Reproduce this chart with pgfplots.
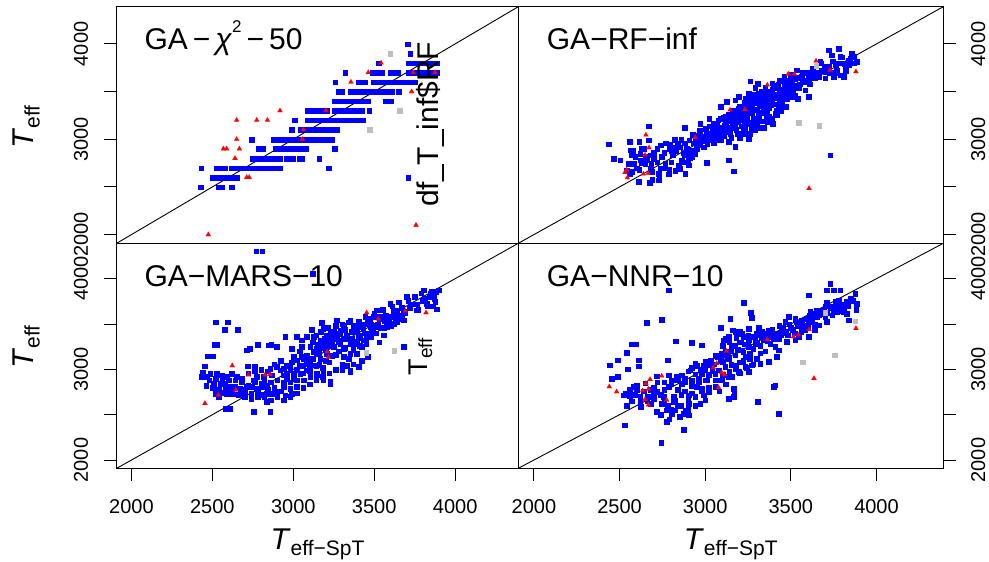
\documentclass[border=0pt]{standalone}
\usepackage{pgfplots}
\pgfplotsset{compat=1.18}
\usepackage{fontspec}
\setmainfont{Liberation Sans}
\definecolor{ptgrey}{RGB}{190,190,190}
\pgfplotsset{
  panel/.style={scale only axis, anchor=south west,
    xmin=1909, xmax=4390, ymin=1909, ymax=4390,
    axis line style={line width=1.2pt},
    tick style={black, line width=1pt},
    tick align=outside, major tick length=12.6pt,
    ytick={2000,2500,3000,3500,4000}, yticklabels={2000,,3000,,4000},
    xtick={2000,2500,3000,3500,4000}, xticklabels={2000,2500,3000,3500,4000},
    tick label style={font=\fontsize{20}{24}\selectfont, inner sep=0pt, outer sep=0pt},
    xticklabel style={anchor=north}, xticklabel shift=18.6pt,
  },
  leftpanel/.style={ytick pos=left, yticklabel style={rotate=90, anchor=south}, yticklabel shift=16.1pt},
  rightpanel/.style={ytick pos=right, yticklabel pos=right, yticklabel style={rotate=90, anchor=north}, yticklabel shift=15.3pt},
  toppanel/.style={xtick=\empty},
  botpanel/.style={xtick pos=bottom},
  bluept/.style={blue, only marks, mark=square*, mark size=2.3pt, mark options={solid, draw=blue, fill=blue, line width=0.1pt}},
  redpt/.style={red, only marks, mark=triangle*, mark size=2.9pt, mark options={solid, draw=red, fill=red, line width=0.1pt}},
  greypt/.style={ptgrey, only marks, mark=square*, mark size=2.3pt, mark options={solid, draw=ptgrey, fill=ptgrey, line width=0.1pt}},
  diag/.style={black, line width=0.9pt},
}
\newcommand{\lab}{\fontsize{30}{36}\selectfont}
\newcommand{\sub}{\fontsize{21}{24}\selectfont}
\begin{document}
\begin{tikzpicture}[x=1pt,y=1pt]
\useasboundingbox (0,0) rectangle (989,562);
% ---------------- top left: GA - chi2 - 50
\begin{axis}[panel, leftpanel, toppanel, at={(116.7pt,318.7pt)}, width=401.6pt, height=236.6pt]
\addplot[bluept] coordinates {
(3706,4000) (3721,3900)
(3525,3800) (3712,3800) (3732,3800) (3752,3800) (3772,3800) (3792,3800) (3812,3800) (3832,3800) (3852,3800) (3872,3800) (3884,3800)
(3319,3700) (3486,3700) (3506,3700) (3526,3700) (3544,3700) (3599,3700) (3619,3700) (3639,3700) (3647,3700) (3712,3700) (3732,3700) (3752,3700) (3772,3700) (3792,3700) (3812,3700) (3832,3700) (3852,3700) (3872,3700) (3884,3700)
(3257,3600) (3403,3600) (3423,3600) (3441,3600) (3496,3600) (3516,3600) (3536,3600) (3556,3600) (3576,3600) (3596,3600) (3616,3600) (3636,3600) (3656,3600) (3676,3600) (3696,3600) (3716,3600) (3736,3600) (3750,3600)
(3280,3500) (3297,3500) (3352,3500) (3372,3500) (3392,3500) (3412,3500) (3432,3500) (3452,3500) (3472,3500) (3492,3500) (3512,3500) (3532,3500) (3552,3500) (3572,3500) (3592,3500) (3606,3500) (3649,3500)
(3255,3400) (3275,3400) (3295,3400) (3315,3400) (3335,3400) (3355,3400) (3375,3400) (3395,3400) (3415,3400) (3435,3400) (3455,3400) (3462,3400) (3568,3400) (3588,3400) (3602,3400)
(3084,3300) (3104,3300) (3124,3300) (3144,3300) (3164,3300) (3184,3300) (3204,3300) (3255,3300) (3275,3300) (3295,3300) (3315,3300) (3335,3300) (3355,3300) (3375,3300) (3395,3300) (3415,3300) (3421,3300) (3468,3300)
(3006,3200) (3084,3200) (3104,3200) (3124,3200) (3144,3200) (3164,3200) (3184,3200) (3204,3200) (3224,3200) (3244,3200) (3264,3200) (3284,3200) (3304,3200) (3324,3200) (3344,3200) (3364,3200) (3384,3200) (3404,3200) (3424,3200) (3431,3200)
(2989,3100) (3043,3100) (3063,3100) (3083,3100) (3103,3100) (3123,3100) (3143,3100) (3163,3100) (3183,3100) (3203,3100) (3223,3100) (3243,3100) (3263,3100) (3266,3100)
(2743,3000) (2878,3000) (2898,3000) (2918,3000) (2938,3000) (2958,3000) (2978,3000) (2998,3000) (3018,3000) (3038,3000) (3058,3000) (3078,3000) (3098,3000) (3118,3000) (3138,3000) (3158,3000) (3178,3000) (3198,3000) (3218,3000) (3235,3000)
(2786,2900) (2813,2900) (2889,2900) (2909,2900) (2929,2900) (2949,2900) (2969,2900) (2989,2900) (3009,2900) (3029,2900) (3049,2900) (3069,2900) (3077,2900) (3253,2900)
(2744,2800) (2764,2800) (2784,2800) (2804,2800) (2824,2800) (2844,2800) (2864,2800) (2884,2800) (2904,2800) (2916,2800) (2954,2800) (2974,2800) (2994,2800) (3037,2800) (3050,2800) (3160,2800)
(2431,2700) (2524,2700) (2544,2700) (2564,2700) (2576,2700) (2617,2700) (2637,2700) (2657,2700) (2677,2700) (2697,2700) (2717,2700) (2737,2700) (2757,2700) (2772,2700) (2806,2700) (2826,2700) (2846,2700) (2866,2700) (2886,2700) (2906,2700) (2916,2700) (3216,2700)
(2497,2600) (2517,2600) (2537,2600) (2557,2600) (2577,2600) (2597,2600) (2617,2600) (2637,2600) (2648,2600) (3708,2600)
(2426,2500) (2534,2500) (2556,2500) (2617,2500)
};
\addplot[greypt] coordinates {(3597,3900) (3655,3300) (3470,3100)};
\addplot[redpt] coordinates {
(2475,2000) (2650,3200) (2774,3200) (2840,3200) (2918,3300) (2650,3000) (2568,2900) (2588,2900) (2667,2900) (2640,2800) (2712,2600) (2728,2600) (3062,3100) (3056,3000) (3202,3300) (3356,3600) (3463,3700) (3542,3800) (3741,3700) (3875,3700) (3731,3500) (3758,2100)
};
\addplot[diag] coordinates {(1909,1909) (4390,4390)};
\end{axis}
% ---------------- top right: GA-RF-inf
\begin{axis}[panel, rightpanel, toppanel, at={(518.3pt,318.7pt)}, width=425pt, height=236.6pt]
\addplot[bluept] coordinates {
(2435,2950) (2464,2800) (2503,2782) (2557,2978) (2614,2978) (2668,3139) (2561,2887) (2571,2835) (2551,2748) (2581,2748) (2542,2678) (2571,2660) (2614,2685) (2629,2755) (2649,2817) (2678,2835) (2684,2748) (2668,2992) (2639,2905) (2610,2555) (2674,2548) (2726,2573) (2726,2643) (2688,2660) (2785,2636) (2824,2671) (2882,2643) (2902,2730) (2843,2730) (2863,2782) (2746,2817) (2765,2748) (2795,2950) (2820,2999) (2878,3125) (2911,2803) (2970,3167) (2966,3090) (2999,3115) (3022,3219) (3009,2758) (3135,2782) (3164,2667) (3174,2922) (3135,2975) (3067,3132) (3090,3342) (3125,3394) (3174,3412) (3194,3447) (3232,3429) (3262,3611) (3304,3586) (3291,3544) (3252,3482) (3291,3097) (3339,3122) (3392,3167) (3369,3237) (3252,3010) (3203,3062) (3232,3115) (3408,3272) (3427,3342) (3447,3412) (3466,3517) (3485,3621) (3505,3586) (3534,3726) (3563,3656) (3583,3517) (3602,3447) (3540,3429) (3505,3447) (3602,3621) (3622,3691) (3661,3656) (3670,3814) (3699,3709) (3719,3936) (3738,3883) (3777,3953) (3787,3866) (3816,3761) (3836,3831) (3855,3901) (3865,3866) (3884,3814) (3758,3796) (3748,3656) (3807,3656) (3787,3674) (3768,3726) (3729,2835)
(2930,2960) (2950,2900) (2970,2940) (2990,2980) (3010,2950) (3030,3000) (3050,2960) (3070,3020) (2960,3010) (2990,2920) (3020,3060) (3040,3090) (3060,3050) (3080,3080) (3100,3100) (3110,3040) (3120,3150) (3130,3080) (3140,3200) (3150,3120) (3160,3170) (3170,3230) (3180,3100) (3190,3180) (3200,3260) (3210,3140) (3220,3200) (3230,3300) (3240,3250) (3250,3180) (3260,3340) (3270,3280) (3280,3220) (3290,3380) (3300,3310) (3310,3250) (3320,3400) (3330,3350) (3340,3290) (3350,3450) (3360,3380) (3370,3330) (3380,3500) (3390,3420) (3400,3370) (3410,3470) (3420,3540) (3430,3450) (3440,3400) (3450,3520) (3460,3580) (3470,3480) (3490,3550) (3510,3500) (3520,3630) (3550,3580) (3570,3620) (3590,3700) (3610,3580) (3640,3650) (3680,3720) (3700,3640) (3720,3760) (3760,3700) (3790,3800) (3820,3720) (3840,3780)
(2760,2860) (2790,2900) (2810,2840) (2830,2880) (2850,2920) (2870,2860) (2890,2900) (2900,2840) (2920,2880) (2700,2800) (2720,2760) (2740,2700) (2680,2700) (2650,2740) (2620,2780) (2600,2700) (2590,2820) (2560,2640) (2800,2760) (2880,2960) (2940,3040) (3000,3010) (3090,2990) (3150,3020) (3190,3060) (3230,3160) (3270,3100) (3300,3150) (3330,3190) (3360,3270) (3120,3240) (3160,3300) (3200,3340) (3230,3390) (3260,3420) (3280,3470) (3310,3480) (3350,3540) (3390,3590) (3430,3620) (3460,3660) (3500,3680)
(2905,2990) (2925,3050) (2945,2990) (2965,3060) (2985,3030) (3005,3080) (3015,2990) (3025,3140) (3035,3040) (3045,3170) (3055,3000) (3065,3090) (3075,3200) (3085,3130) (3095,3050) (3105,3230) (3115,3180) (3125,3110) (3135,3260) (3145,3060) (3155,3210) (3165,3290) (3175,3140) (3185,3240) (3195,3320) (3205,3200) (3215,3280) (3225,3120) (3235,3350) (3245,3220) (3255,3300) (3265,3160) (3275,3380) (3285,3310) (3295,3200) (3305,3420) (3315,3350) (3325,3280) (3335,3450) (3345,3330) (3355,3240) (3365,3490) (3375,3420) (3385,3360) (3395,3540) (3405,3440) (3415,3300) (3425,3580) (3435,3500) (3445,3360) (3455,3610) (3465,3540) (3475,3420) (3485,3500) (3495,3620) (3515,3560) (3525,3460) (3535,3650) (3545,3540) (3565,3700) (3585,3600) (3605,3660) (3625,3740) (3655,3700) (3675,3800) (3695,3760) (3725,3700) (3745,3820) (3765,3760) (3795,3860) (3815,3790) (3845,3850) (3870,3800)
(3050,3110) (3070,3160) (3090,3220) (3110,3150) (3130,3190) (3150,3250) (3170,3180) (3190,3280) (3210,3330) (3230,3250) (3250,3370) (3270,3330) (3290,3440) (3310,3380) (3330,3500) (3350,3390) (3370,3460) (3390,3520) (3410,3560) (3430,3400) (3450,3460) (3470,3600) (3230,3060) (3200,3020) (3260,3060) (3280,3120) (3320,3120) (3360,3180) (3390,3220) (3420,3260) (3440,3300) (3470,3340)
(2700,2860) (2720,2900) (2740,2940) (2770,2960) (2800,2880) (2820,2920) (2840,2960) (2860,3000) (2880,2840) (2900,2780) (2920,2820) (2660,2790) (2620,2850) (2580,2880) (2630,2900) (2690,2580) (2730,2620) (2760,2700) (2790,2680) (2850,2690) (2870,2760) (2940,2850) (2960,2960)
};
\addplot[greypt] coordinates {(3544,3174) (3665,3143) (3647,3772)};
\addplot[redpt] coordinates {
(2654,3045) (2672,2912) (2649,2835) (2542,2678) (2532,2653) (2546,2597) (2639,2636) (2668,2643) (2941,3020) (3145,3307) (3232,3314) (3363,3569) (3485,3684) (3520,3684) (3647,3821) (3729,3726) (3880,3709) (3606,2485)
};
\addplot[diag] coordinates {(1909,1909) (4390,4390)};
\end{axis}
% ---------------- bottom left: GA-MARS-10
\begin{axis}[panel, leftpanel, botpanel, at={(116.7pt,93.7pt)}, width=401.6pt, height=225pt]
\addplot[bluept] coordinates {
(2769,4305) (2806,4305) (3119,4059)
(2518,3522) (2592,3522) (2574,3441) (2654,3441)
(2510,3276) (2527,3276) (2471,3147) (2500,3147) (2450,3037) (2440,2964) (2430,2919) (2465,2919)
(2780,3276) (2728,3232) (2712,3213) (2846,3269) (2862,3276) (2897,3250) (2949,3361) (2990,3232) (3021,3361) (3051,3250) (3113,3441) (3175,3515) (3185,3452) (3216,3342) (3268,3544) (3309,3489) (3350,3544) (3402,3526) (3422,3471)
(2485,2956) (2527,2956) (2557,2938) (2588,2919) (2619,2956) (2650,2919) (2681,2901) (2506,2846) (2547,2846) (2578,2846) (2609,2809) (2640,2809) (2671,2791) (2527,2754) (2557,2743) (2588,2735) (2619,2735) (2650,2728) (2681,2780) (2712,2809) (2743,2809) (2774,2791) (2804,2809) (2835,2828) (2774,2919) (2753,2883) (2716,3037) (2759,3030) (2815,2919) (2866,2938) (2897,3030) (2856,3011) (2804,2846) (2835,2735) (2866,2735) (2897,2754) (2938,2809) (2979,2791) (3021,2809) (2990,2735) (2949,2717) (2835,2644) (2753,2534) (2856,2534) (2609,2570) (2578,2570) (2516,2735) (2537,2699)
(2918,2993) (2938,3011) (2979,3048) (3021,3103) (3051,3140) (3082,3158) (3103,3103) (3124,3195) (3144,3232) (3165,3269) (3185,3287) (3206,3324) (3227,3287) (3247,3361) (3268,3379) (3288,3397) (3309,3342) (3350,3306) (3391,3306) (3432,3324) (3474,3397) (3515,3471) (3577,3471) (3618,3508) (3659,3563) (3556,3379) (3144,2938) (3103,2919) (3062,2883) (3185,2962) (3227,2846) (3350,2993) (3391,3177) (3402,3030) (3350,3177) (3309,3140) (3247,3250) (3206,3177) (3165,3122) (3124,3048) (3082,2993) (3042,2956) (3000,2900) (2960,2900) (3100,3000) (3160,3050) (3200,3100) (3240,3150) (3280,3200) (3320,3240) (3360,3280) (3400,3350) (3440,3400) (3480,3440) (3520,3500) (3560,3540) (3600,3580) (3640,3620) (3680,3640) (3720,3680) (3760,3720) (3800,3760) (3840,3800) (3870,3840)
(3885,3666) (3875,3746) (3844,3838) (3803,3875) (3896,3875) (3824,3728) (3762,3655) (3721,3710) (3700,3802) (3669,3599) (3680,3544) (3638,3655) (3618,3636) (3597,3728) (3556,3581) (3515,3655) (3494,3581) (3474,3471) (3443,3581) (3391,3416) (3350,2975) (3227,2864) (3185,2890) (3144,2956) (3103,2938) (3144,3177) (3103,3250) (3062,3122) (2979,2993) (2938,2938) (3051,3324) (3082,3361) (3124,3361) (3165,3324) (3206,3379) (3247,3416) (3288,3434) (3350,3287) (3391,3287) (3680,3250)
(2700,2760) (2720,2820) (2740,2740) (2760,2860) (2780,2760) (2800,2720) (2820,2880) (2840,2780) (2860,2860) (2880,2800) (2900,2880) (2920,2760) (2940,2860) (2960,2960) (2980,2860) (3000,2960) (3020,2880) (3040,3040) (3060,2960) (3080,3060) (3100,2980) (3120,3120) (3140,3040) (3160,3180) (3180,3020) (3200,3220) (3220,3080) (3240,3280) (3260,3160) (3280,3320) (3300,3060) (3310,3230) (3330,3380) (3340,3120) (3360,3340) (3370,3220) (3390,3460) (3410,3380) (3420,3250) (3440,3500) (3450,3340) (3470,3560) (3490,3420) (3500,3620) (3530,3560) (3550,3660) (3570,3600) (3590,3520) (3610,3700) (3630,3560) (3650,3740) (3670,3680) (3690,3620) (3710,3760) (3730,3720) (3750,3800) (3770,3660) (3790,3840) (3810,3780) (3830,3700) (3850,3860) (3870,3780) (3880,3860) (3860,3700)
(3120,3300) (3140,3380) (3170,3420) (3190,3340) (3210,3460) (3230,3400) (3260,3480) (3280,3400) (3300,3500) (3320,3440) (3340,3520) (3370,3480) (3400,3520) (3430,3460) (3460,3520) (3480,3500) (3520,3580) (3540,3460) (3580,3540) (3620,3580) (3650,3600)
(3100,3060) (3130,3200) (3150,3280) (3180,3240) (3210,3260) (3250,3340) (3290,3280) (3320,3340) (3360,3420) (3380,3300) (3410,3260) (3450,3280) (3480,3360) (3510,3400) (3530,3300) (3560,3460) (3600,3480) (3640,3520)
(3020,3000) (3060,3040) (3080,3120) (2990,3080) (3040,3200) (3000,3140) (2960,3040) (2920,3100) (2880,3060) (2840,2980) (2800,3000) (2760,2980) (2720,2960) (2680,2860) (2640,2880) (2600,2880) (2560,2880) (2520,2900) (2480,2880) (2460,2820) (2500,2800) (2540,2780) (2580,2780) (2620,2760) (2660,2720) (2700,2700) (2740,2680) (2780,2700) (2820,2700) (2860,2660) (2900,2700) (2940,2660) (2980,2700) (3020,2740) (3060,2800) (3100,2840) (3140,2880) (3180,2920) (3220,2960) (3260,3000) (3300,3000) (3330,3040) (3370,3060) (3420,3100) (3460,3140)
};
\addplot[greypt] coordinates {(3622,3206) (3449,3184)};
\addplot[redpt] coordinates {
(2454,2625) (2623,3041) (2724,2938) (2856,2945) (2825,2938) (2644,2772) (2537,2717) (3820,3625) (3210,3195) (3216,3133) (3453,3625) (3525,3555) (3692,3644)
};
\addplot[diag] coordinates {(1909,1909) (4390,4390)};
\end{axis}
% ---------------- bottom right: GA-NNR-10
\begin{axis}[panel, rightpanel, botpanel, at={(518.3pt,93.7pt)}, width=425pt, height=225pt]
\addplot[bluept] coordinates {
(2785,3875) (3223,3739) (3602,3820) (2658,3519) (2746,3552) (3264,3629) (3269,3574) (3145,3563) (3088,3463) (3158,3434) (2828,3313) (2921,3298) (2979,3269) (2571,3280) (2594,3280) (2540,3188) (2487,3103) (2440,3048) (2546,3004) (2610,3103) (2610,3037) (2779,3103) (2454,2901) (2487,2919) (2581,2809) (2532,2735) (2522,2717) (2557,2710) (2590,2717) (2542,2600) (2623,2589) (2678,2699) (2717,2927) (2785,2938) (2785,2809) (2804,2883) (2834,2919) (2863,2938) (2911,2993) (2941,3066) (2999,3085) (3057,2956) (3077,2993) (3096,3177) (3106,3324) (3135,3361) (3174,3416) (3213,3397) (3252,3452) (3310,3463) (3369,3434) (3388,3361) (3427,3342) (3447,3434) (3466,3526) (3485,3581) (3524,3563) (3563,3544) (3602,3526) (3612,3636) (3651,3655) (3680,3618) (3709,3526) (3738,3691) (3758,3746) (3768,3636) (3807,3636) (3826,3618) (3836,3544) (3875,3838) (3884,3728) (3826,3746) (3787,3875) (3748,3875) (3709,3875) (3729,3949) (3709,3735) (3661,3489) (3602,3361) (3524,3324) (3476,3305) (3427,3213) (3417,3140) (3369,3085) (3320,3066) (3271,3048) (3232,3030) (3194,2975) (3155,2919) (3168,2761) (3164,2699) (3018,2754) (2989,2717) (2970,2625) (2902,2625) (2882,2552) (2824,2552) (2804,2515) (2775,2552) (2746,2625) (2756,2699) (2717,2534) (2814,2699) (2814,2644) (2872,2515) (2902,2497) (2775,2423) (2872,2339) (2742,2195) (2528,2386) (3135,2681) (3304,2644) (3427,2515) (3398,2809) (3408,2828) (3057,2809) (2979,2791) (2921,2883) (2863,2846) (2902,2717) (2950,2809) (3009,2883) (3038,3048) (3086,3122) (3135,3122) (3174,3158) (3213,3213) (3252,3250) (3291,3287) (3339,3324) (3378,3287) (3408,3250) (3232,3140) (3252,2975) (3174,3011) (3116,3030) (3096,2883) (3135,2919) (3164,2791) (3252,3324) (3330,3361) (3544,3361) (3583,3434)
(3150,3250) (3200,3300) (3250,3380) (3300,3400) (3350,3400) (3180,3350) (3220,3190) (3280,3230) (3320,3180) (3120,3200) (3060,3150) (3000,3000) (2980,2950) (2940,2950) (2880,2900) (2840,2780) (2880,2760) (2920,2740) (2960,2860) (3020,2940) (3040,2990) (3100,3080) (3150,3050) (3200,3080) (3260,3120) (3300,3120) (3350,3200) (3380,3360) (3460,3400) (3500,3460) (3540,3480) (3620,3560) (3660,3600) (3700,3580) (3740,3600) (3780,3650) (3800,3700) (3850,3780) (3780,3760) (3700,3700) (3640,3500) (2600,2780) (2640,2760) (2650,2850) (2700,2800) (2720,2760) (2680,2620) (2700,2680) (2660,2650) (2570,2650) (2620,2700) (2760,2640) (2840,2600) (2790,2450) (2850,2480)
(2900,2980) (2920,3020) (2950,3040) (2970,3000) (2990,3040) (3010,3060) (3030,3100) (3050,3060) (3070,3140) (3090,3100) (3110,3160) (3130,3140) (3150,3200) (3170,3260) (3190,3220) (3210,3300) (3230,3280) (3250,3320) (3270,3360) (3290,3340) (3310,3380) (3330,3420) (3350,3360) (3370,3400) (3390,3440) (3410,3400) (3430,3480) (3450,3460) (3470,3420) (3490,3500) (3510,3440) (3530,3520) (3550,3500) (3570,3480) (3590,3560) (3610,3600) (3630,3620) (3650,3580) (3670,3640) (3690,3660) (3710,3620) (3730,3680) (3750,3640) (3770,3700) (3790,3720) (3810,3660) (3830,3700) (3860,3760) (3880,3660)
(3180,3380) (3140,3300) (3100,3260) (3120,3340) (3200,3420) (3220,3360) (3300,3300) (3320,3260) (3360,3320) (3400,3340) (3440,3380) (3480,3380) (3520,3400) (3560,3420) (3600,3460) (3640,3440)
(3000,2880) (2960,2900) (2920,2820) (2880,2860) (2840,2880) (2800,2840) (2760,2780) (2740,2720) (2780,2600) (2820,2660) (2860,2720) (2900,2660) (2940,2700) (2980,2760) (3020,2800) (3060,2880) (3100,2940) (3140,2980) (3180,3040) (3220,3100) (3260,3180) (3280,3060) (3240,3020) (3200,2960) (3120,2840) (3080,2760) (2700,2740) (2660,2700) (2620,2640) (2580,2720) (2560,2780) (2600,2820) (2680,2780) (2720,2860) (2740,2500) (2800,2560) (2860,2600) (2900,2560) (2940,2600) (3000,2660) (2760,2860)
};
\addplot[greypt] coordinates {(3567,3081) (3754,3158) (3875,3533) (3699,3629)};
\addplot[redpt] coordinates {
(2440,2809) (2483,2754) (2635,2765) (2653,2846) (2678,2890) (2668,2783) (2746,2927) (2649,2669) (2668,2607) (2775,2662) (3077,2802) (3048,3019) (3096,2964) (3112,2945) (3125,3202) (3363,3331) (3515,3361) (3544,3379) (3606,3441) (3635,2901) (3880,3452) (3067,3066)
};
\addplot[diag] coordinates {(1909,1909) (4390,4390)};
\end{axis}
% ---------------- panel labels and texts
\node[anchor=base west, inner sep=0pt] at (144.3,512.7) {\lab GA\hspace{5pt}−\hspace{5pt}\textit{χ}\raisebox{17pt}{\fontsize{17}{20}\selectfont 2}\hspace{5pt}−\hspace{5pt}50};
\node[anchor=base west, inner sep=0pt] at (546.7,512.7) {\lab GA−RF−inf};
\node[anchor=base west, inner sep=0pt] at (144.3,275.3) {\lab GA−MARS−10};
\node[anchor=base west, inner sep=0pt] at (546.7,275.3) {\lab GA−NNR−10};
\node[rotate=90, anchor=base, inner sep=0pt] at (438.7,437.8) {\lab df\_T\_inf\$RF};
\node[rotate=90, anchor=base, inner sep=0pt] at (427,205.3) {\fontsize{27}{30}\selectfont T\raisebox{-5pt}{\fontsize{19}{22}\selectfont eff}};
\node[rotate=90, anchor=base, inner sep=0pt] at (33.5,435) {\lab\textit{T}\raisebox{-6pt}{\sub eff}};
\node[rotate=90, anchor=base, inner sep=0pt] at (33.5,215) {\lab\textit{T}\raisebox{-6pt}{\sub eff}};
\node[anchor=base, inner sep=0pt] at (317.5,12.5) {\lab\textit{T}\raisebox{-6pt}{\sub eff−SpT}};
\node[anchor=base, inner sep=0pt] at (730.8,12.5) {\lab\textit{T}\raisebox{-6pt}{\sub eff−SpT}};
\end{tikzpicture}
\end{document}
